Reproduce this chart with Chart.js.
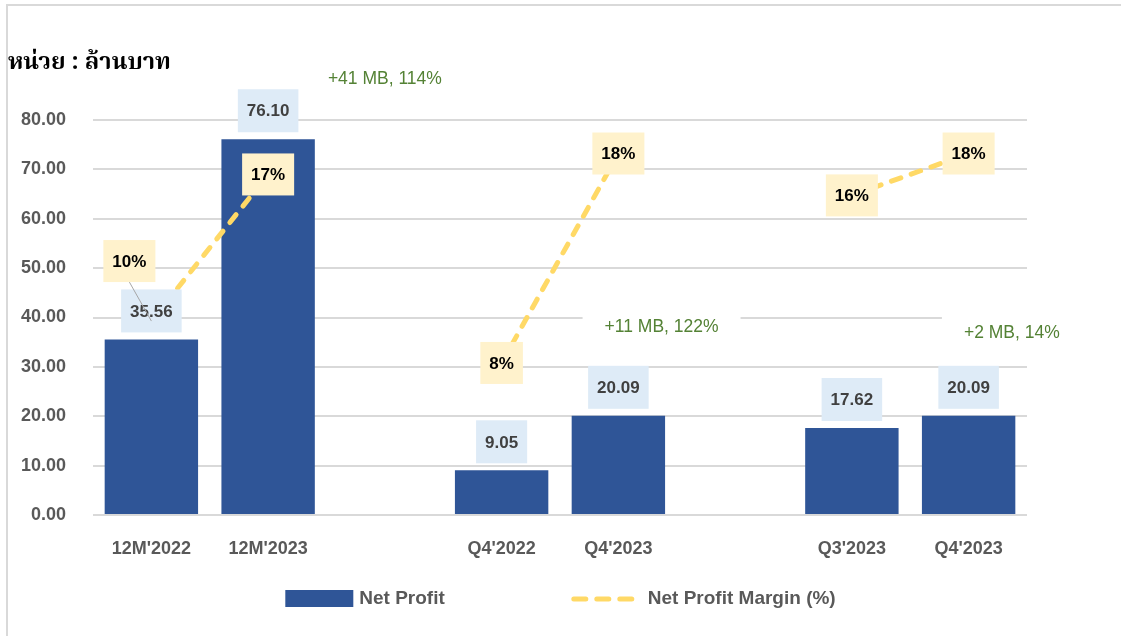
<!DOCTYPE html>
<html>
<head>
<meta charset="utf-8">
<script src="https://cdn.jsdelivr.net/npm/chart.js@4.4.0/dist/chart.umd.min.js"></script>
<style>
html,body{margin:0;padding:0;background:#fff;overflow:hidden}
#frame{position:absolute;left:6px;top:4px;width:1200px;height:700px;border:2px solid #d9d9d9}
#wrap{position:absolute;left:0;top:0;width:1121px;height:636px}
</style>
</head>
<body>
<div id="frame"></div>
<div id="wrap"><canvas id="profit"></canvas></div>
<script>
// values
const labels = ["12M'2022", "12M'2023", "", "Q4'2022", "Q4'2023", "", "Q3'2023", "Q4'2023"]
const netProfit = [35.56, 76.10, null, 9.05, 20.09, null, 17.62, 20.09]
const profitMargin = [10, 17, null, 8, 18, null, 16, 18]
const yTicks = [0, 10, 20, 30, 40, 50, 60, 70, 80]
const changeNotes = ["+41 MB, 114%", "+11 MB, 122%", "+2 MB, 14%"]
const unitTitle = "หน่วย : ล้านบาท"

const FONT = "Arial, 'Liberation Sans', sans-serif"
const BLUE = '#2F5597'
const YELLOW = '#FFD966'

function labelBox(ctx, text, cx, cy, fill, color, font, padX, h) {
    ctx.font = font
    const w = ctx.measureText(text).width + padX * 2
    ctx.fillStyle = fill
    ctx.fillRect(cx - w / 2, cy - h / 2, w, h)
    ctx.fillStyle = color
    ctx.textAlign = 'center'
    ctx.textBaseline = 'middle'
    ctx.fillText(text, cx, cy + 1)
}

// where the change notes sit: category index + offset, value on y
const notePlace = [
    { idx: 2, off: 0, val: 88.3, bg: false },
    { idx: 4, off: 0.37, val: 38.1, bg: true },
    { idx: 7, off: 0.37, val: 36.9, bg: true }
]

const extras = {
    id: 'extras',
    afterDatasetsDraw(chart) {
        const ctx = chart.ctx
        const x = chart.scales.x, y = chart.scales.y
        const step = x.getPixelForValue(1) - x.getPixelForValue(0)
        ctx.save()

        // value labels above bars
        const bars = chart.getDatasetMeta(0).data
        netProfit.forEach((v, i) => {
            if (v == null) return
            const b = bars[i]
            labelBox(ctx, v.toFixed(2), b.x, b.y - 7 - 21.5, '#DEEBF7', '#404040', 'bold 17px ' + FONT, 9, 43)
        })

        // margin labels on the line
        const pts = chart.getDatasetMeta(1).data
        profitMargin.forEach((v, i) => {
            if (v == null) return
            const p = pts[i]
            let cx = p.x, cy = p.y
            if (i === 0) {
                // moved label with a leader line
                cx -= 22; cy -= 60
                ctx.strokeStyle = '#A6A6A6'
                ctx.lineWidth = 1
                ctx.beginPath()
                ctx.moveTo(cx, cy + 21)
                ctx.lineTo(p.x, p.y)
                ctx.stroke()
            }
            labelBox(ctx, v + '%', cx, cy, '#FFF2CC', '#000000', 'bold 17px ' + FONT, 9, 42)
        })

        // change notes
        ctx.font = '17.5px ' + FONT
        changeNotes.forEach((t, i) => {
            const n = notePlace[i]
            const cx = x.getPixelForValue(n.idx) + n.off * step
            const cy = y.getPixelForValue(n.val)
            const w = ctx.measureText(t).width
            if (n.bg) {
                ctx.fillStyle = '#ffffff'
                ctx.fillRect(cx - w / 2 - 22, cy - 21, w + 44, 42)
            }
            ctx.fillStyle = '#548235'
            ctx.textAlign = 'center'
            ctx.textBaseline = 'middle'
            ctx.fillText(t, cx, cy)
        })
        ctx.restore()
    },
    afterDraw(chart) {
        const ctx = chart.ctx
        ctx.save()
        // unit title
        ctx.font = "bold 23.5px 'Noto Serif Thai', 'Noto Sans Thai', Tahoma, 'DejaVu Sans', serif"
        ctx.fillStyle = '#000000'
        ctx.textAlign = 'left'
        ctx.textBaseline = 'middle'
        ctx.fillText(unitTitle, 8, 65)

        // legend
        const ds = chart.data.datasets
        ctx.font = 'bold 19px ' + FONT
        const w0 = ctx.measureText(ds[0].label).width
        const w1 = ctx.measureText(ds[1].label).width
        const total = 68 + 6 + w0 + 126 + 66 + 11 + w1
        let lx = (chart.width - total) / 2
        const ly = 599
        ctx.fillStyle = BLUE
        ctx.fillRect(lx, ly - 9, 68, 17)
        lx += 68 + 6
        ctx.fillStyle = '#595959'
        ctx.fillText(ds[0].label, lx, ly)
        lx += w0 + 126
        ctx.strokeStyle = YELLOW
        ctx.lineWidth = 5
        ctx.lineCap = 'round'
        ctx.setLineDash([12, 11])
        ctx.beginPath()
        ctx.moveTo(lx + 3, ly)
        ctx.lineTo(lx + 66, ly)
        ctx.stroke()
        ctx.setLineDash([])
        lx += 66 + 11
        ctx.fillText(ds[1].label, lx, ly)
        ctx.restore()
    }
}

const data = {
    labels: labels,
    datasets: [
        {
            type: 'bar',
            label: 'Net Profit',
            data: netProfit,
            backgroundColor: BLUE,
            barPercentage: 0.8,
            categoryPercentage: 1.0,
            yAxisID: 'y',
            order: 2
        },
        {
            type: 'line',
            label: 'Net Profit Margin (%)',
            data: profitMargin,
            borderColor: YELLOW,
            borderWidth: 5,
            borderDash: [10, 11],
            borderCapStyle: 'round',
            pointRadius: 0,
            spanGaps: false,
            tension: 0,
            yAxisID: 'y1',
            order: 1
        }
    ]
}

const config = {
    type: 'bar',
    data: data,
    options: {
        responsive: true,
        maintainAspectRatio: false,
        animation: false,
        layout: { padding: { top: 120, left: 0, right: 94, bottom: 61 } },
        plugins: {
            legend: { display: false },
            tooltip: { enabled: false }
        },
        scales: {
            x: {
                grid: { display: false, drawTicks: false },
                border: { display: false },
                ticks: {
                    color: '#595959',
                    font: { family: FONT, size: 18, weight: 'bold' },
                    padding: 23,
                    maxRotation: 0,
                    autoSkip: false
                },
                afterFit: (s) => { s.height = 60 }
            },
            y: {
                min: 0,
                max: 80,
                afterBuildTicks: (s) => { s.ticks = yTicks.map(v => ({ value: v })) },
                grid: { color: '#D9D9D9', lineWidth: 2, drawTicks: false },
                border: { display: false },
                ticks: {
                    color: '#595959',
                    font: { family: FONT, size: 18, weight: 'bold' },
                    padding: 27,
                    callback: (v) => Number(v).toFixed(2)
                },
                afterFit: (s) => { s.width = 93 }
            },
            y1: {
                display: false,
                min: 0.74,
                max: 19.6
            }
        }
    },
    plugins: [extras]
}

document.addEventListener('DOMContentLoaded', function () {
    new Chart(document.getElementById('profit'), config)
})
</script>
</body>
</html>
